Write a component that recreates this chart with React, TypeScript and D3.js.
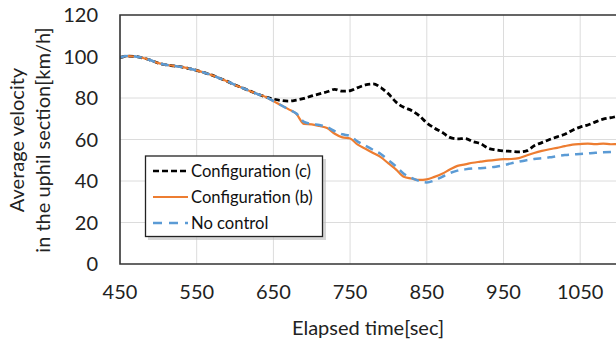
import React, { useEffect, useRef } from 'react'
import * as d3 from 'd3'

// elapsed time [sec]
const times = [
  450, 460, 470, 480, 490, 500, 510, 520, 530, 540, 550, 560, 570, 580, 590, 600, 610, 620, 630, 640,
  650, 660, 670, 680, 690, 700, 710, 720, 730, 740, 750, 760, 770, 780, 790, 800, 810, 820, 830, 840,
  850, 860, 870, 880, 890, 900, 910, 920, 930, 940, 950, 960, 970, 980, 990, 1000, 1010, 1020, 1030, 1040,
  1050, 1060, 1070, 1080, 1090, 1100, 1110,
]

// shared start, all three runs overlap until ~640 s
const common = [
  99.5, 100.2, 100, 99.3, 98.2, 96.8, 96, 95.5, 95, 94.2, 93.3, 92.2, 91, 89.5, 88, 86.3, 84.8, 83.3, 81.8, 80.5,
]

const configC = common.concat([
  79.5, 78.8, 78.5, 79, 79.8, 81, 82, 83, 84.2, 83.3, 83.5, 85, 86.3, 86.8, 85, 82, 78, 75.5, 74, 71.5,
  68, 65.5, 63.5, 61, 60.3, 60.5, 59, 58, 55.8, 55, 54.5, 54.3, 54, 54.5, 57, 58.5, 60, 61.3, 62.5, 64.5,
  66, 67, 68.5, 69.8, 70.5, 71.3, 71.8,
])

const configB = common.concat([
  78.5, 76.5, 74.5, 72.3, 67.5, 67.3, 66.5, 65.5, 62.8, 61, 60.5, 57.5, 55.5, 53.5, 51.5, 48.5, 45.5, 42, 41.2, 40.5,
  40.8, 42, 43.5, 45.5, 47.3, 48, 48.8, 49.3, 49.8, 50.2, 50.5, 50.6, 51, 52.3, 53.5, 54.5, 55.3, 56, 56.8, 57.5,
  57.8, 58, 57.8, 58, 57.7, 57.8, 57.5,
])

const noControl = common.concat([
  78.5, 76.5, 74.5, 72.5, 68.5, 67.5, 67, 66, 64, 62.5, 61.7, 59, 57, 55, 53, 50, 47, 43.5, 41.5, 40,
  39.3, 40.3, 42, 43.8, 45, 45.6, 46, 46.2, 46.5, 46.9, 47.5, 48.5, 49.3, 50, 50.6, 51, 51.4, 52, 52.5, 52.8,
  53, 53.3, 53.6, 53.8, 54, 54.2, 54.3,
])

const xTicks = [450, 550, 650, 750, 850, 950, 1050]
const yTicks = [0, 20, 40, 60, 80, 100, 120]

const seriesNames = ['Configuration (c)', 'Configuration (b)', 'No control']

const W = 616
const H = 341

export default function App() {
  const ref = useRef<SVGSVGElement>(null)

  useEffect(() => {
    const svg = d3.select(ref.current)
    svg.selectAll('*').remove()

    const margin = { top: 15, left: 120, bottom: 264 }
    const x = d3.scaleLinear().domain([450, 1098]).range([margin.left, 617])
    const y = d3.scaleLinear().domain([0, 120]).range([margin.bottom, margin.top])
    const font = 'Lato, sans-serif'

    svg.append('defs').append('clipPath').attr('id', 'plotclip')
      .append('rect')
      .attr('x', x(450)).attr('y', y(120))
      .attr('width', x(1098) - x(450)).attr('height', y(0) - y(120))

    // grid
    svg.append('g')
      .selectAll('line.v')
      .data(xTicks.slice(1))
      .join('line')
      .attr('x1', d => x(d)).attr('x2', d => x(d))
      .attr('y1', y(0)).attr('y2', y(120))
      .attr('stroke', '#dcdcdc').attr('stroke-width', 1)

    svg.append('g')
      .selectAll('line.h')
      .data(yTicks.slice(1, -1))
      .join('line')
      .attr('x1', x(450)).attr('x2', 617)
      .attr('y1', d => y(d)).attr('y2', d => y(d))
      .attr('stroke', '#dcdcdc').attr('stroke-width', 1)

    const line = (vals: number[]) => d3.line<number>()
      .x((_, i) => x(times[i]))
      .y(d => y(d))
      .curve(d3.curveMonotoneX)(vals)

    const lines = svg.append('g').attr('clip-path', 'url(#plotclip)')
    lines.append('path').attr('d', line(configC))
      .attr('fill', 'none').attr('stroke', '#000').attr('stroke-width', 2.8)
      .attr('stroke-dasharray', '5.5 3')
    lines.append('path').attr('d', line(configB))
      .attr('fill', 'none').attr('stroke', '#ED7D31').attr('stroke-width', 2.2)
    lines.append('path').attr('d', line(noControl))
      .attr('fill', 'none').attr('stroke', '#5B9BD5').attr('stroke-width', 2.5)
      .attr('stroke-dasharray', '8 6')

    // frame
    svg.append('path')
      .attr('d', `M617,${y(120)}H${x(450)}V${y(0)}H617`)
      .attr('fill', 'none').attr('stroke', '#333').attr('stroke-width', 1.6)

    // axis labels
    svg.append('g')
      .selectAll('text')
      .data(yTicks)
      .join('text')
      .attr('x', 98).attr('y', d => y(d))
      .attr('dy', '0.36em')
      .attr('text-anchor', 'end')
      .attr('font-family', font).attr('font-size', 20).attr('fill', '#222')
      .text(d => d)

    svg.append('g')
      .selectAll('text')
      .data(xTicks)
      .join('text')
      .attr('x', d => x(d)).attr('y', 292)
      .attr('dy', '0.36em')
      .attr('text-anchor', 'middle')
      .attr('font-family', font).attr('font-size', 20).attr('fill', '#222')
      .text(d => d)

    svg.append('text')
      .attr('x', 368).attr('y', 328).attr('dy', '0.36em')
      .attr('text-anchor', 'middle')
      .attr('font-family', font).attr('font-size', 20).attr('fill', '#222')
      .text('Elapsed time[sec]')

    const yt = svg.append('text')
      .attr('transform', 'translate(0,140) rotate(-90)')
      .attr('text-anchor', 'middle')
      .attr('font-family', font).attr('font-size', 20).attr('fill', '#222')
    yt.append('tspan').attr('x', 0).attr('y', 17).attr('dy', '0.36em').text('Average velocity')
    yt.append('tspan').attr('x', 0).attr('y', 43).attr('dy', '0.36em').text('in the uphil section[km/h]')

    // legend
    const lg = svg.append('g')
    lg.append('rect')
      .attr('x', 148).attr('y', 159).attr('width', 178).attr('height', 81)
      .attr('fill', '#bbb').attr('opacity', 0.6)
    lg.append('rect')
      .attr('x', 145.5).attr('y', 156).attr('width', 177).attr('height', 80.5)
      .attr('fill', '#fff').attr('stroke', '#222').attr('stroke-width', 1.3)
    const legStyles = [
      { c: '#000', dash: '6 3', w: 2.4 },
      { c: '#ED7D31', dash: null, w: 2.2 },
      { c: '#5B9BD5', dash: '9 7', w: 2.5 },
    ]
    const rowsY = [171, 197, 223]
    seriesNames.forEach((name, i) => {
      const s = legStyles[i]
      const l = lg.append('line')
        .attr('x1', 153).attr('x2', 188)
        .attr('y1', rowsY[i]).attr('y2', rowsY[i])
        .attr('stroke', s.c).attr('stroke-width', s.w)
      if (s.dash) l.attr('stroke-dasharray', s.dash)
      lg.append('text')
        .attr('x', 191).attr('y', rowsY[i]).attr('dy', '0.36em')
        .attr('font-family', font).attr('font-size', 16.6).attr('fill', '#111')
        .text(name)
    })
  }, [])

  return (
    <svg ref={ref} width={W} height={H}
      style={{ position: 'absolute', left: 0, top: 0, background: '#fff' }} />
  )
}
